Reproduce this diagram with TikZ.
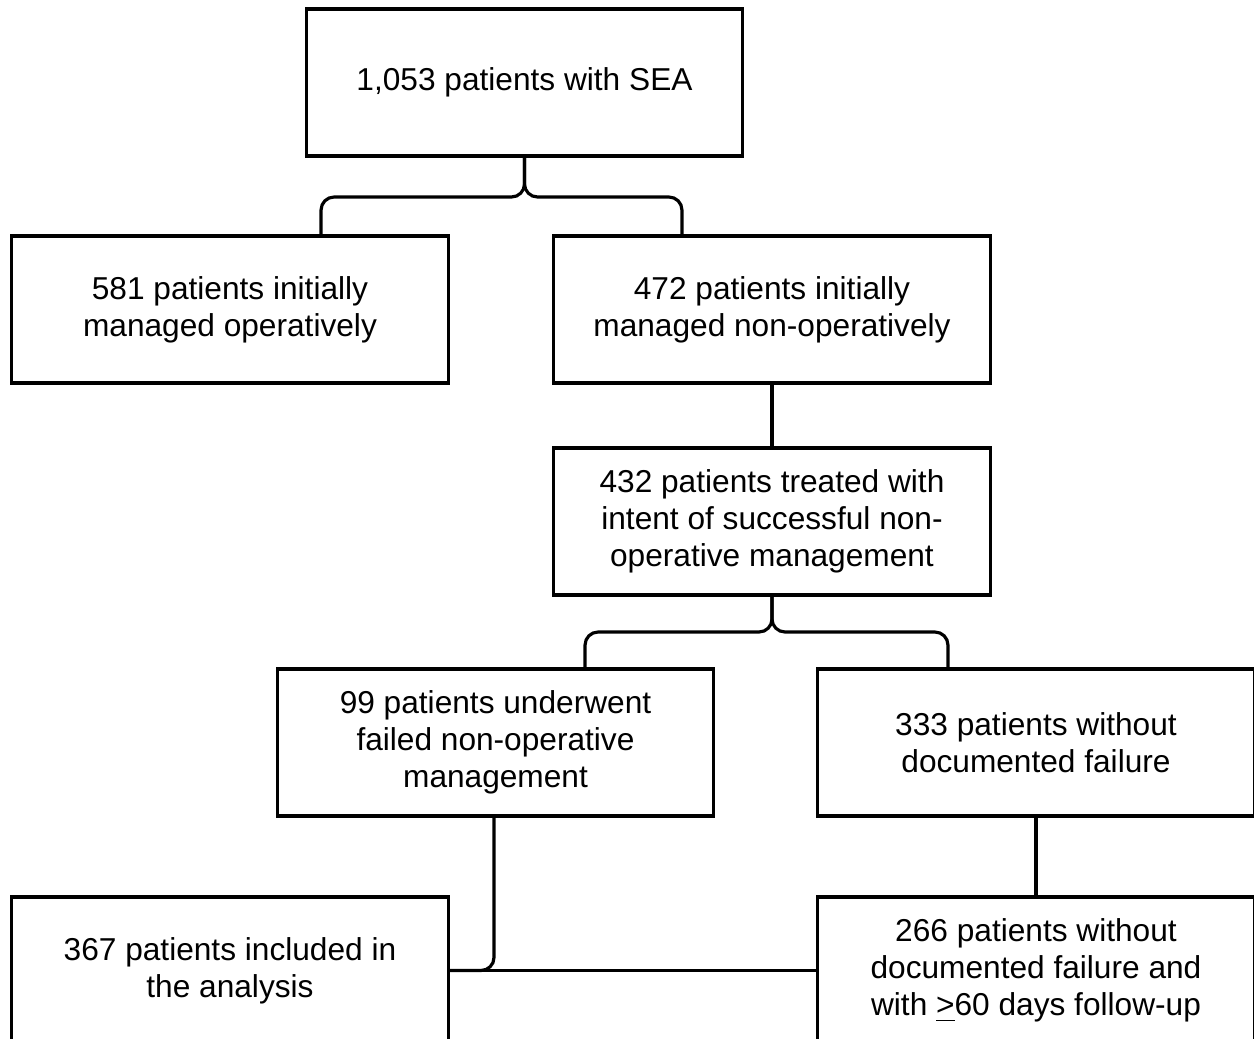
\documentclass[tikz,border=0pt]{standalone}
\usepackage{fontspec}
\setmainfont{Liberation Sans}
\usetikzlibrary{positioning}

\begin{document}
\begin{tikzpicture}[x=0.01cm,y=-0.01cm,
  box/.style={draw,line width=0.9pt,minimum width=4.36cm,minimum height=1.47cm,
    inner sep=0pt,align=center,font=\fontsize{9pt}{10.6pt}\selectfont},
  link/.style={line width=0.9pt,rounded corners=0.13cm}]
\useasboundingbox (0,0) rectangle (1254,1039);
\clip (0,0) rectangle (1254,1039);
\node[box] (sea) at (524.5,82.5) {1,053 patients with SEA};
\node[box] (op) at (230,309.5) {581 patients initially\\managed operatively};
\node[box] (nonop) at (772,309.5) {472 patients initially\\managed non-operatively};
\node[box] (intent) at (772,521.5) {432 patients treated with\\intent of successful non-\\operative management};
\node[box] (failed) at (495.5,742.5) {99 patients underwent\\failed non-operative\\management};
\node[box] (nofail) at (1036,742.5) {333 patients without\\documented failure};
\node[box] (incl) at (230,970.5) {367 patients included in\\the analysis};
\node[box] (follow) at (1036,970.5) {266 patients without\\documented failure and\\with \underline{>}60 days follow-up};
% braces
\draw[link] (sea.south) -- (524.5,197) -| ([xshift=0.91cm]op.north);
\draw[link] (sea.south) -- (524.5,197) -| ([xshift=-0.9cm]nonop.north);
\draw[link] (nonop.south) -- (intent.north);
\draw[link] (intent.south) -- (772,632) -| ([xshift=0.895cm]failed.north);
\draw[link] (intent.south) -- (772,632) -| ([xshift=-0.88cm]nofail.north);
\draw[link] (nofail.south) -- (follow.north);
\draw[link] ([xshift=-0.015cm]failed.south) |- (incl.east);
\draw[link] (incl.east) -- (follow.west);
\end{tikzpicture}
\end{document}
